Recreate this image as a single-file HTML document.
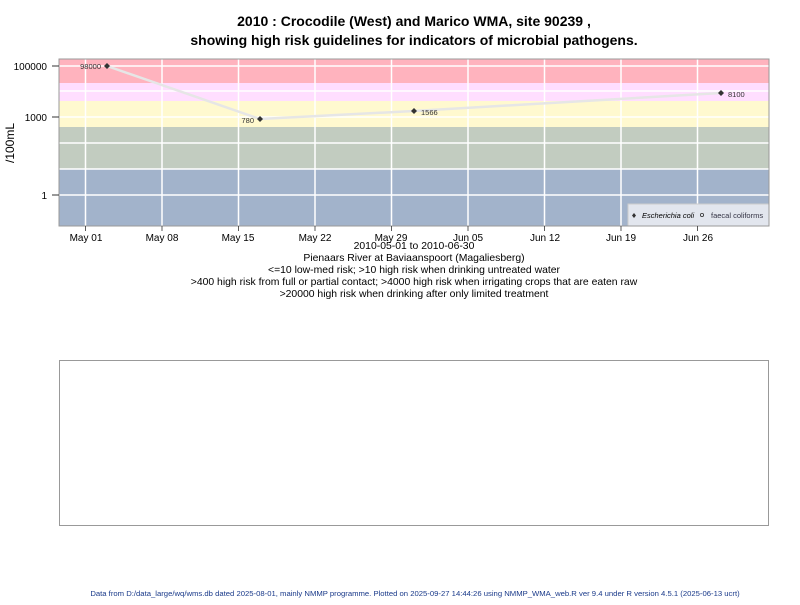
<!DOCTYPE html>
<html><head><style>
body{margin:0;background:#fff;width:800px;height:600px;overflow:hidden;font-family:"Liberation Sans",sans-serif}
</style></head><body>
<svg width="800" height="600" xmlns="http://www.w3.org/2000/svg" font-family="Liberation Sans, sans-serif">
<text x="414" y="26" text-anchor="middle" font-size="14" font-weight="bold">2010 : Crocodile (West) and Marico WMA, site 90239 ,</text>
<text x="414" y="45" text-anchor="middle" font-size="14" font-weight="bold">showing high risk guidelines for indicators of microbial pathogens.</text>
<rect x="59" y="59" width="710" height="24" fill="#ffb3be"/>
<rect x="59" y="83" width="710" height="18" fill="#ffdeff"/>
<rect x="59" y="101" width="710" height="26" fill="#fff9cf"/>
<rect x="59" y="127" width="710" height="42" fill="#c2ccc0"/>
<rect x="59" y="169" width="710" height="57" fill="#a2b3cb"/>
<g stroke="#fff" stroke-width="1.5">
<line x1="59" x2="769" y1="66" y2="66"/><line x1="59" x2="769" y1="91" y2="91"/>
<line x1="59" x2="769" y1="117" y2="117"/><line x1="59" x2="769" y1="143" y2="143"/>
<line x1="59" x2="769" y1="169" y2="169"/><line x1="59" x2="769" y1="195" y2="195"/>
<line x1="85.5" x2="85.5" y1="59" y2="226"/><line x1="162" x2="162" y1="59" y2="226"/>
<line x1="238.5" x2="238.5" y1="59" y2="226"/><line x1="315" x2="315" y1="59" y2="226"/>
<line x1="391.5" x2="391.5" y1="59" y2="226"/><line x1="468" x2="468" y1="59" y2="226"/>
<line x1="544.5" x2="544.5" y1="59" y2="226"/><line x1="621" x2="621" y1="59" y2="226"/>
<line x1="697.5" x2="697.5" y1="59" y2="226"/>
</g>
<polyline points="107,66 260,119 414,111 721,93" fill="none" stroke="#e6e6e6" stroke-width="2.5"/>
<g fill="#333">
<path d="M107 63l3 3-3 3-3-3z"/><path d="M260 116l3 3-3 3-3-3z"/>
<path d="M414 108l3 3-3 3-3-3z"/><path d="M721 90l3 3-3 3-3-3z"/>
</g>
<g font-size="7.5" fill="#333">
<text x="101" y="69" text-anchor="end">98000</text>
<text x="254" y="123" text-anchor="end">780</text>
<text x="421" y="115">1566</text>
<text x="728" y="97">8100</text>
</g>
<rect x="628" y="204" width="141" height="22" fill="#e2e6ee" stroke="#ccc"/>
<path d="M634 213l2 2.5-2 2.5-2-2.5z" fill="#333"/>
<text x="642" y="218" font-size="7.5" font-style="italic">Escherichia coli</text>
<circle cx="702" cy="215" r="1.6" fill="none" stroke="#333" stroke-width="0.8"/>
<text x="711" y="218" font-size="7.5" fill="#334">faecal coliforms</text>
<rect x="59" y="59" width="710" height="167" fill="none" stroke="#999"/>
<g stroke="#333"><line x1="52" x2="59" y1="66" y2="66"/><line x1="52" x2="59" y1="117" y2="117"/><line x1="52" x2="59" y1="195" y2="195"/>
<g stroke-width="0.8">
<line x1="85.5" x2="85.5" y1="226" y2="231"/><line x1="162" x2="162" y1="226" y2="231"/><line x1="238.5" x2="238.5" y1="226" y2="231"/><line x1="315" x2="315" y1="226" y2="231"/><line x1="391.5" x2="391.5" y1="226" y2="231"/><line x1="468" x2="468" y1="226" y2="231"/><line x1="544.5" x2="544.5" y1="226" y2="231"/><line x1="621" x2="621" y1="226" y2="231"/><line x1="697.5" x2="697.5" y1="226" y2="231"/>
</g></g>
<g font-size="10" text-anchor="end" fill="#000">
<text x="47" y="70">100000</text><text x="47" y="121">1000</text><text x="47" y="199">1</text>
</g>
<text transform="translate(14,143) rotate(-90)" text-anchor="middle" font-size="12">/100mL</text>
<g font-size="10" text-anchor="middle">
<text x="86" y="241">May 01</text><text x="162" y="241">May 08</text><text x="238" y="241">May 15</text><text x="315" y="241">May 22</text><text x="391" y="241">May 29</text><text x="468" y="241">Jun 05</text><text x="545" y="241">Jun 12</text><text x="621" y="241">Jun 19</text><text x="698" y="241">Jun 26</text>
</g>
<g font-size="10.4" text-anchor="middle">
<text x="414" y="249">2010-05-01 to 2010-06-30</text>
<text x="414" y="261">Pienaars River at Baviaanspoort (Magaliesberg)</text>
<text x="414" y="273">&lt;=10 low-med risk; &gt;10 high risk when drinking untreated water</text>
<text x="414" y="285">&gt;400 high risk from full or partial contact; &gt;4000 high risk when irrigating crops that are eaten raw</text>
<text x="414" y="297">&gt;20000 high risk when drinking after only limited treatment</text>
</g>
<rect x="59.5" y="360.5" width="709" height="165" fill="none" stroke="#999"/>
<text x="415" y="596" text-anchor="middle" font-size="7.7" fill="#1a3a8a">Data from D:/data_large/wq/wms.db dated 2025-08-01, mainly NMMP programme. Plotted on 2025-09-27 14:44:26 using NMMP_WMA_web.R ver 9.4 under R version 4.5.1 (2025-06-13 ucrt)</text>
</svg>
</body></html>
